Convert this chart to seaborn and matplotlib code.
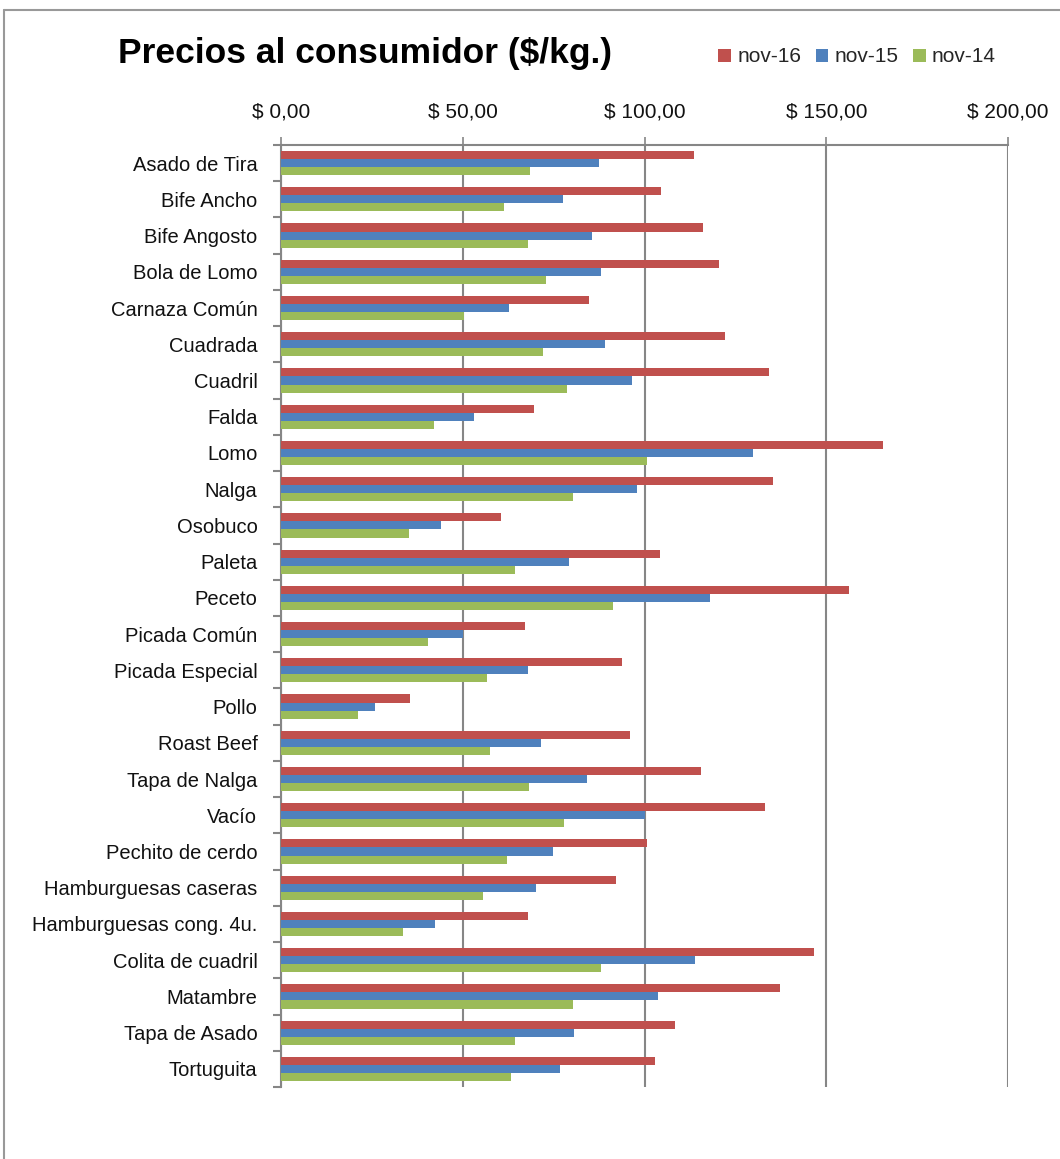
import matplotlib
matplotlib.use("Agg")
import matplotlib.pyplot as plt
from matplotlib.lines import Line2D
from matplotlib.ticker import FixedLocator
import pandas as pd
import seaborn as sns

cortes = ["Asado de Tira", "Bife Ancho", "Bife Angosto", "Bola de Lomo",
          "Carnaza Común", "Cuadrada", "Cuadril", "Falda", "Lomo", "Nalga",
          "Osobuco", "Paleta", "Peceto", "Picada Común", "Picada Especial",
          "Pollo", "Roast Beef", "Tapa de Nalga", "Vacío", "Pechito de cerdo",
          "Hamburguesas caseras", "Hamburguesas cong. 4u.",
          "Colita de cuadril", "Matambre", "Tapa de Asado", "Tortuguita"]

nov16 = [113.5, 104.5, 116.1, 120.4, 84.8, 122.1, 134.3, 69.6, 165.7, 135.4,
         60.5, 104.3, 156.2, 67.1, 93.7, 35.4, 95.9, 115.6, 133.1, 100.8,
         92.2, 68.0, 146.5, 137.4, 108.5, 102.9]
nov15 = [87.5, 77.5, 85.5, 88.0, 62.7, 89.2, 96.6, 53.1, 129.9, 98.0,
         43.9, 79.3, 118.1, 50.0, 67.9, 25.9, 71.5, 84.2, 100.2, 74.7,
         70.2, 42.4, 114.0, 103.6, 80.7, 76.7]
nov14 = [68.5, 61.3, 68.0, 73.0, 50.4, 72.1, 78.8, 42.1, 100.8, 80.3,
         35.2, 64.5, 91.3, 40.5, 56.7, 21.3, 57.6, 68.3, 77.9, 62.3,
         55.6, 33.5, 87.9, 80.2, 64.4, 63.4]

series = ["nov-16", "nov-15", "nov-14"]
colors = ["#C0504D", "#4F81BD", "#9BBB59"]
ticks = [0, 50, 100, 150, 200]
tick_labels = ["$ 0,00", "$ 50,00", "$ 100,00", "$ 150,00", "$ 200,00"]

rows = []
for s, vals in zip(series, [nov16, nov15, nov14]):
    for c, v in zip(cortes, vals):
        rows.append({"corte": c, "serie": s, "precio": v})
data = pd.DataFrame(rows)

sns.set_style("white")
plt.rcParams["font.family"] = ["Liberation Sans", "DejaVu Sans"]

W, H = 1060, 1159
fig = plt.figure(figsize=(W / 100, H / 100), dpi=100)
ax = fig.add_axes([281 / W, 1 - 1087 / H, (1008 - 281) / W, (1087 - 145) / H])

sns.barplot(data=data, x="precio", y="corte", hue="serie", order=cortes,
            hue_order=series, palette=colors, orient="h", width=0.667,
            saturation=1, linewidth=0, edgecolor="none", ax=ax, zorder=3,
            legend=True)

grid = "#868686"
ax.set_xlim(0, 200)
ax.set_ylim(len(cortes) - 0.5, -0.5)
for x in ticks:
    ax.axvline(x, color=grid, linewidth=1.5, zorder=1)
ax.xaxis.tick_top()
ax.set_xticks(ticks)
ax.set_xticklabels(tick_labels)
ax.tick_params(axis="x", which="major", top=True, bottom=False, length=6,
               width=1.2, color=grid, pad=11, labelsize=15, labelcolor="#111111")
ax.tick_params(axis="y", which="major", left=False, length=0, pad=17,
               labelsize=14.5, labelcolor="#111111")
ax.yaxis.set_minor_locator(FixedLocator([i - 0.5 for i in range(len(cortes) + 1)]))
ax.tick_params(axis="y", which="minor", left=True, length=6, width=1.5,
               color=grid)
ax.set_xlabel("")
ax.set_ylabel("")
for side in ["right", "bottom"]:
    ax.spines[side].set_visible(False)
for side in ["top", "left"]:
    ax.spines[side].set_color(grid)
    ax.spines[side].set_linewidth(1.5)

handles, labels = ax.get_legend_handles_labels()
ax.legend(handles, labels, loc="center left", bbox_to_anchor=(710 / W, 1 - 57 / H),
          bbox_transform=fig.transFigure, ncol=3, frameon=False, fontsize=15,
          handlelength=0.6, handleheight=0.6, handletextpad=0.3,
          columnspacing=0.7, borderaxespad=0)

fig.text(118 / W, 1 - 53 / H, "Precios al consumidor ($/kg.)", fontsize=25.5,
         fontweight="bold", va="center", ha="left", color="black")

# chart frame
fig.add_artist(Line2D([4 / W, 1], [1 - 10 / H, 1 - 10 / H], color="#999999",
                      linewidth=1.5, transform=fig.transFigure))
fig.add_artist(Line2D([4 / W, 4 / W], [0, 1 - 10 / H], color="#999999",
                      linewidth=1.5, transform=fig.transFigure))

fig.savefig("out.png", dpi=100)
